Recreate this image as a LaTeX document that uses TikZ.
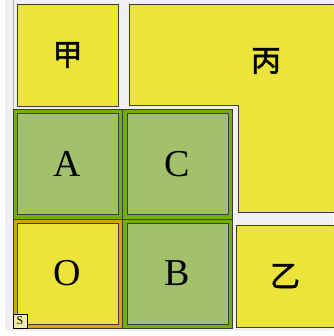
\documentclass[tikz,border=0pt]{standalone}
\usepackage{fontspec}
\setmainfont{Liberation Serif}
\newfontfamily\cjk[FakeBold=1.5]{Noto Sans CJK SC}
\usetikzlibrary{positioning}
\definecolor{tileyellow}{RGB}{236,227,59}
\definecolor{tilegreen}{RGB}{161,194,107}
\definecolor{framegreen}{RGB}{114,176,0}
\definecolor{framegold}{RGB}{214,166,0}
\definecolor{tileedge}{RGB}{60,60,60}
\definecolor{panelgray}{RGB}{240,240,240}
\definecolor{markyellow}{RGB}{242,236,160}

\begin{document}
\begin{tikzpicture}[
    x=1pt, y=-1pt,
    tile/.style={
        rectangle,
        draw=tileedge,
        line width=0.9pt,
        minimum width=101pt,
        minimum height=101pt,
        inner sep=0pt,
        outer sep=0pt,
        font=\fontsize{38}{40}\selectfont
    },
    cell/.style={
        rectangle,
        draw=tileedge,
        line width=0.5pt,
        minimum width=109.5pt,
        minimum height=109.5pt,
        inner sep=0pt,
        outer sep=0pt
    },
    hanzi/.style={
        font=\cjk\fontsize{30}{32}\selectfont
    },
    corner_mark/.style={
        rectangle,
        draw=black,
        line width=0.6pt,
        fill=markyellow,
        minimum size=14pt,
        inner sep=0pt,
        font=\fontsize{12}{12}\selectfont
    }
]
    \useasboundingbox (0,0) rectangle (333,336);

    % background panel
    \fill[white] (0,0) rectangle (333,336);
    \fill[panelgray] (5,0) rectangle (333,331);
    \draw[gray!60, line width=0.6pt] (13,0) -- (13,109);

    % ====== upper row: plain yellow tiles ======
    \node[tile, fill=tileyellow, minimum height=102pt, hanzi] (jia) at (67.5,55) {甲};

    % L-shaped tile
    \draw[draw=tileedge, line width=0.9pt, fill=tileyellow]
        (129,4) -- (334,4) -- (334,212) -- (238,212) -- (238,105.5) -- (129,105.5) -- cycle;
    \node[hanzi] (bing) at (266,61) {丙};

    % ====== green block: framed cells ======
    \node[cell, fill=framegreen] (cellA) at (67.5,164) {};
    \node[cell, fill=framegreen] (cellC) at (177,164) {};
    \node[cell, fill=framegold]  (cellO) at (67.5,273.5) {};
    \node[cell, fill=framegreen] (cellB) at (177,273.5) {};

    \node[tile, fill=tilegreen]  (A) at (cellA) {A};
    \node[tile, fill=tilegreen]  (C) at ([xshift=0.5pt]cellC) {C};
    \node[tile, fill=tileyellow] (O) at (cellO) {O};
    \node[tile, fill=tilegreen]  (B) at ([xshift=0.5pt]cellB) {B};

    % lower right tile
    \node[tile, fill=tileyellow, minimum width=98pt, minimum height=102pt, hanzi] (yi) at (285,276) {乙};

    % start marker (bottom left)
    \node[corner_mark] (start) at (20,321) {S};

\end{tikzpicture}
\end{document}
